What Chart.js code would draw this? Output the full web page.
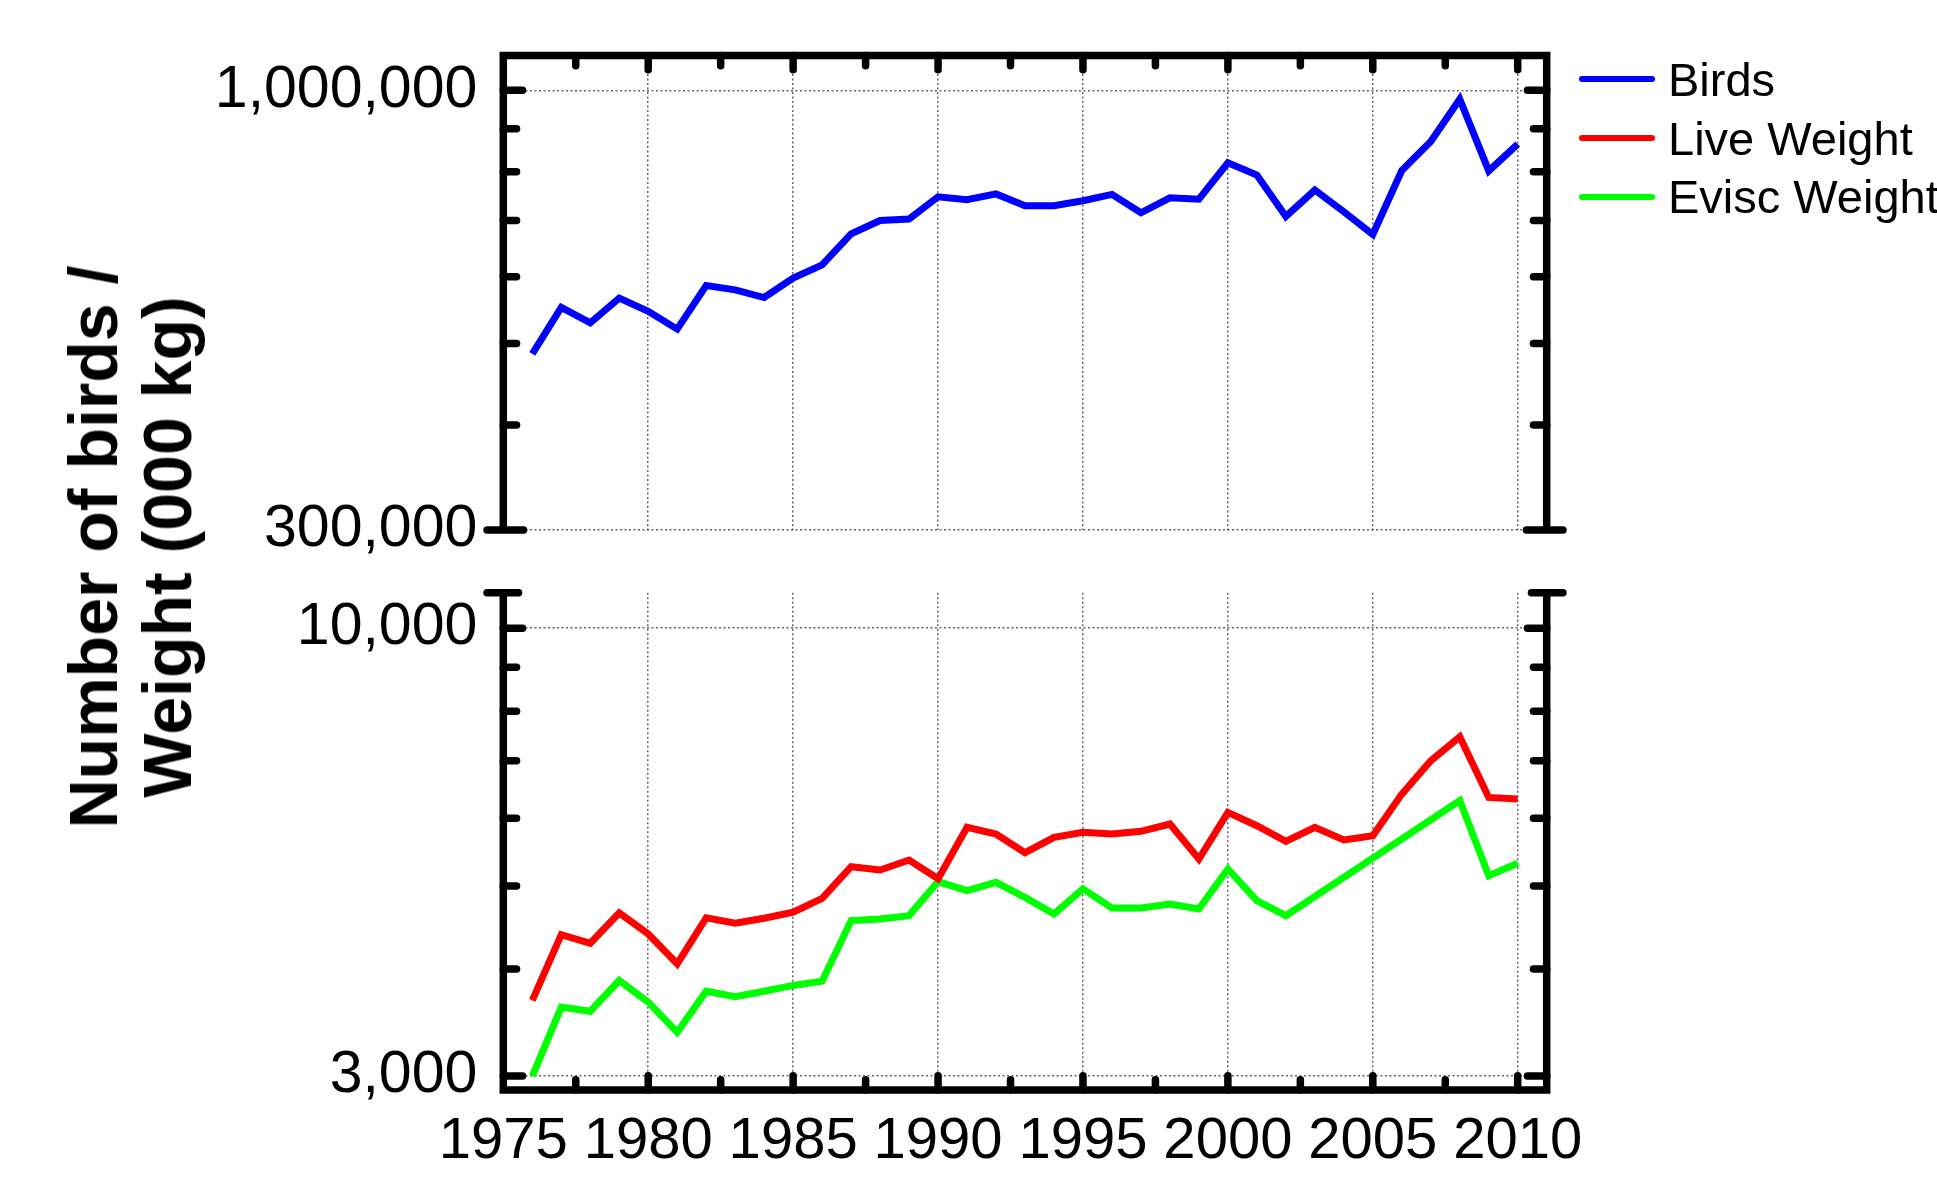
<!DOCTYPE html>
<html>
<head>
<meta charset="utf-8">
<title>Birds and weight, 1976–2010</title>
<script src="https://cdn.jsdelivr.net/npm/chart.js@4.4.0/dist/chart.umd.min.js"></script>
<style>
  html, body { margin: 0; padding: 0; background: #fff; overflow: hidden; }
  #wrap { position: relative; width: 1937px; height: 1177px; }
  #wrap canvas { position: absolute; left: 0; top: 0; }
  #ytitle {
    position: absolute; left: 130px; top: 547px;
    transform: translate(-50%, -50%) rotate(-90deg);
    font: bold 68px 'Liberation Sans', Arial, Helvetica, sans-serif;
    line-height: 74px; text-align: center; white-space: nowrap; color: #000;
  }
  #legend { position: absolute; left: 1579px; top: 50px; }
  .lg-row { display: flex; align-items: center; height: 58.7px; white-space: nowrap; }
  .lg-line { display: inline-block; width: 76px; height: 6px; border-radius: 3px; margin-right: 13px; }
  .lg-text { font: 47px 'Liberation Sans', Arial, Helvetica, sans-serif; line-height: 1; color: #000; }
</style>
</head>
<body>
<div id="wrap">
  <canvas id="topPanel" width="1937" height="1177"></canvas>
  <canvas id="bottomPanel" width="1937" height="1177"></canvas>
  <div id="ytitle">Number of birds /<br>Weight (000 kg)</div>
  <div id="legend"></div>
</div>
<script>
// ---- data ----
const years = [1976, 1977, 1978, 1979, 1980, 1981, 1982, 1983, 1984, 1985,
               1986, 1987, 1988, 1989, 1990, 1991, 1992, 1993, 1994, 1995,
               1996, 1997, 1998, 1999, 2000, 2001, 2002, 2003, 2004, 2005,
               2006, 2007, 2008, 2009, 2010];

const birds = [486000, 552000, 529000, 566000, 546000, 520000, 586000, 579000, 567000, 598000,
               620000, 675000, 700000, 703000, 747000, 741000, 753000, 729000, 729000, 739000,
               752000, 715000, 745000, 742000, 820000, 793000, 708000, 761000, 717000, 674000,
               803000, 869000, 976000, 802000, 863000];

const liveWeight = [3677, 4388, 4287, 4652, 4396, 4057, 4590, 4524, 4585, 4660,
                    4838, 5267, 5221, 5362, 5100, 5855, 5751, 5470, 5699, 5776,
                    5751, 5792, 5907, 5377, 6095, 5880, 5638, 5855, 5659, 5725,
                    6402, 7002, 7468, 6345, 6318];

// no values reported for 2003-2007; the line is joined across the gap
const eviscWeight = [3000, 3611, 3572, 3879, 3660, 3376, 3769, 3715, 3769, 3828,
                     3872, 4557, 4577, 4618, 5060, 4939, 5050, 4850, 4639, 4962,
                     4715, 4715, 4765, 4702, 5235, 4808, 4618, null, null, null,
                     null, null, 6292, 5141, 5315];

const xLabelYears = [1975, 1980, 1985, 1990, 1995, 2000, 2005, 2010];
const xMinorYears = [1977.5, 1982.5, 1987.5, 1992.5, 1997.5, 2002.5, 2007.5];

const topMajorTicks = [300000, 1000000];
const topMinorTicks = [400000, 500000, 600000, 700000, 800000, 900000];
const bottomMajorTicks = [3000, 10000];
const bottomMinorTicks = [4000, 5000, 6000, 7000, 8000, 9000];

// ---- styling ----
const INK = '#000';
const GRID = 'rgba(0,0,0,0.6)';
const LABEL_FONT = "'Liberation Sans', Arial, Helvetica, sans-serif";
const FRAME_WIDTH = 7.5;
const SERIES_WIDTH = 7;

const series = (vals) => years.map((yr, i) => ({ x: yr, y: vals[i] }));

// Box outline and inward tick marks, placed with the chart's own scales.
const frameTicks = {
  id: 'frameTicks',
  afterDatasetsDraw(chart, args, opts) {
    const { ctx, chartArea: a, scales } = chart;
    const lw = opts.width;
    const r = lw / 2;
    ctx.save();
    ctx.strokeStyle = INK;
    ctx.lineWidth = lw;
    ctx.lineJoin = 'miter';
    ctx.lineCap = 'butt';
    ctx.beginPath();
    if (opts.side === 'top') {
      ctx.moveTo(a.left, a.bottom); ctx.lineTo(a.left, a.top);
      ctx.lineTo(a.right, a.top); ctx.lineTo(a.right, a.bottom);
    } else {
      ctx.moveTo(a.left, a.top); ctx.lineTo(a.left, a.bottom);
      ctx.lineTo(a.right, a.bottom); ctx.lineTo(a.right, a.top);
    }
    ctx.stroke();

    ctx.lineCap = 'round';
    const seg = (x1, y1, x2, y2) => { ctx.beginPath(); ctx.moveTo(x1, y1); ctx.lineTo(x2, y2); ctx.stroke(); };

    // caps on the open edge of the panel
    const capY = opts.side === 'top' ? a.bottom : a.top;
    seg(a.left - opts.capOut + r, capY, a.left + opts.capIn - r, capY);
    seg(a.right - opts.capIn + r, capY, a.right + opts.capOut - r, capY);

    // y ticks on both sides
    const ys = scales.y;
    ys.ticks.forEach(t => {
      const p = ys.getPixelForValue(t.value);
      if (Math.abs(p - capY) < 1) return;
      const len = opts.yMajor.includes(t.value) ? 23 : 17;
      seg(a.left, p, a.left + len - r, p);
      seg(a.right - len + r, p, a.right, p);
    });

    // x ticks on the closed edge
    const xs = scales.x;
    const edge = opts.side === 'top' ? a.top : a.bottom;
    const dir = opts.side === 'top' ? 1 : -1;
    xs.ticks.forEach(t => {
      if (t.value <= xs.min) return;
      const p = xs.getPixelForValue(t.value);
      const len = xLabelYears.includes(t.value) ? 18 : 14;
      seg(p, edge, p, edge + dir * (len - r));
    });
    ctx.restore();
  }
};

function panel(id, datasets, yMin, yMax, yMajor, yMinor, side) {
  const isTop = side === 'top';
  const W = 1937, H = 1177;
  const plotLeft = 503.3, plotRight = 1546.7;
  const plotTop = isTop ? 45.7 : 592.7;
  const plotBottom = isTop ? 530 : 1090;
  return new Chart(document.getElementById(id), {
    type: 'line',
    data: { datasets },
    options: {
      responsive: false,
      animation: false,
      devicePixelRatio: 1,
      events: [],
      layout: {
        padding: {
          left: 0,
          right: W - plotRight,
          top: isTop ? 0 : plotTop,
          bottom: isTop ? H - plotBottom : 0
        }
      },
      elements: {
        point: { radius: 0 },
        line: { borderWidth: SERIES_WIDTH, tension: 0, fill: false }
      },
      plugins: {
        legend: { display: false },
        tooltip: { enabled: false },
        frameTicks: { side, width: FRAME_WIDTH, capOut: 20, capIn: isTop ? 24 : 19, yMajor }
      },
      scales: {
        x: {
          type: 'linear',
          position: isTop ? 'top' : 'bottom',
          min: 1975,
          max: 2011,
          afterBuildTicks: (s) => {
            s.ticks = xLabelYears.concat(xMinorYears).sort((p, q) => p - q).map(v => ({ value: v }));
          },
          afterFit: (s) => { s.height = isTop ? plotTop : H - plotBottom; },
          border: { display: false, dash: [2, 2.5] },
          grid: {
            drawTicks: false,
            lineWidth: 1.5,
            color: (c) => (c.tick && xLabelYears.includes(c.tick.value) && c.tick.value > 1975) ? GRID : 'rgba(0,0,0,0)'
          },
          ticks: {
            display: !isTop,
            autoSkip: false,
            maxRotation: 0,
            padding: 23,
            color: INK,
            font: { family: LABEL_FONT, size: 58, lineHeight: 1 },
            callback: (v) => xLabelYears.includes(v) ? String(v) : ''
          }
        },
        y: {
          type: 'logarithmic',
          position: 'left',
          min: yMin,
          max: yMax,
          afterBuildTicks: (s) => {
            s.ticks = yMajor.concat(yMinor).sort((p, q) => p - q).map(v => ({ value: v }));
          },
          afterFit: (s) => { s.width = plotLeft; },
          border: { display: false, dash: [2, 2.5] },
          grid: {
            drawTicks: false,
            lineWidth: 1.5,
            color: (c) => (c.tick && yMajor.includes(c.tick.value)) ? GRID : 'rgba(0,0,0,0)'
          },
          ticks: {
            autoSkip: false,
            padding: 26,
            color: INK,
            font: { family: LABEL_FONT, size: 59, lineHeight: 1 },
            callback: (v) => yMajor.includes(v) ? v.toLocaleString('en-US') : ''
          }
        }
      }
    },
    plugins: [frameTicks]
  });
}

const topChart = panel('topPanel', [
  { label: 'Birds', data: series(birds), borderColor: '#0000ff' }
], 300000, 1100000, topMajorTicks, topMinorTicks, 'top');

const bottomChart = panel('bottomPanel', [
  { label: 'Live Weight', data: series(liveWeight), borderColor: '#ff0000' },
  { label: 'Evisc Weight', data: series(eviscWeight), borderColor: '#00ff00', spanGaps: true }
], 2890, 11000, bottomMajorTicks, bottomMinorTicks, 'bottom');

// legend built from the datasets of both panels
const legend = document.getElementById('legend');
[topChart, bottomChart].forEach(ch => ch.data.datasets.forEach(ds => {
  const row = document.createElement('div');
  row.className = 'lg-row';
  const line = document.createElement('span');
  line.className = 'lg-line';
  line.style.background = ds.borderColor;
  const text = document.createElement('span');
  text.className = 'lg-text';
  text.textContent = ds.label;
  row.appendChild(line);
  row.appendChild(text);
  legend.appendChild(row);
}));
</script>
</body>
</html>
